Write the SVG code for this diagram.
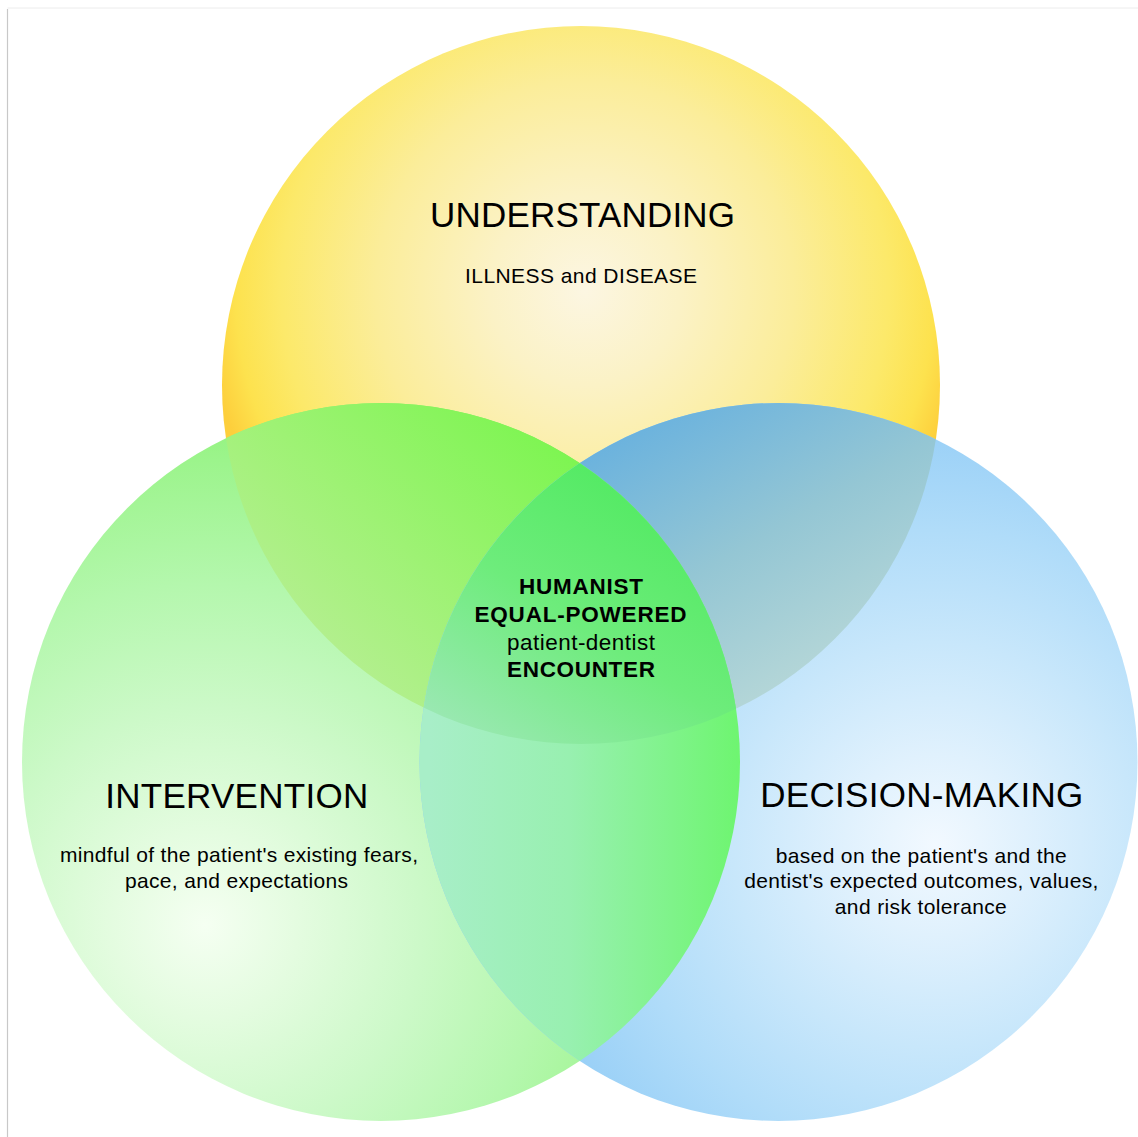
<svg xmlns="http://www.w3.org/2000/svg" width="1138" height="1137" viewBox="0 0 1138 1137">
<style>
  text { font-family: "Liberation Sans", Arial, sans-serif; fill: #000; text-anchor: middle; }
  .title { font-size: 35px; }
  .sub { font-size: 21px; }
  .ctr { font-size: 22.5px; }
  .b { font-weight: bold; }
</style>
<defs>
  <radialGradient id="gY" gradientUnits="userSpaceOnUse" cx="585" cy="290" r="380">
    <stop offset="0" stop-color="#fcf6e2"/>
    <stop offset="0.25" stop-color="#fbf2c6"/>
    <stop offset="0.55" stop-color="#fbed9a"/>
    <stop offset="0.8" stop-color="#fce96a"/>
    <stop offset="0.92" stop-color="#fde24e"/>
    <stop offset="1" stop-color="#fdcf3c"/>
  </radialGradient>
  <radialGradient id="gG" gradientUnits="userSpaceOnUse" cx="205" cy="925" r="620">
    <stop offset="0" stop-color="#f5fff2"/>
    <stop offset="0.15" stop-color="#e4fce0"/>
    <stop offset="0.35" stop-color="#ccf9c8"/>
    <stop offset="0.55" stop-color="#b4f7ad"/>
    <stop offset="0.75" stop-color="#9cf48c"/>
    <stop offset="1" stop-color="#78f055"/>
  </radialGradient>
  <radialGradient id="gB" gradientUnits="userSpaceOnUse" cx="935" cy="845" r="450">
    <stop offset="0" stop-color="#f2f9ff"/>
    <stop offset="0.2" stop-color="#e0f1fd"/>
    <stop offset="0.45" stop-color="#c8e7fb"/>
    <stop offset="0.7" stop-color="#b0dcf9"/>
    <stop offset="1" stop-color="#92ccf6"/>
  </radialGradient>
  <linearGradient id="gYG" gradientUnits="userSpaceOnUse" x1="540" y1="430" x2="300" y2="690">
    <stop offset="0" stop-color="#7ef552"/>
    <stop offset="0.5" stop-color="#9ef274"/>
    <stop offset="1" stop-color="#bbee98"/>
  </linearGradient>
  <linearGradient id="gYB" gradientUnits="userSpaceOnUse" x1="640" y1="420" x2="800" y2="700">
    <stop offset="0" stop-color="#6ab2de"/>
    <stop offset="0.5" stop-color="#94c6d4"/>
    <stop offset="1" stop-color="#b8d8d8"/>
  </linearGradient>
  <linearGradient id="gGB" gradientUnits="userSpaceOnUse" x1="430" y1="0" x2="740" y2="0">
    <stop offset="0" stop-color="#a8eec8"/>
    <stop offset="0.45" stop-color="#98f0b0"/>
    <stop offset="1" stop-color="#6ef570"/>
  </linearGradient>
  <linearGradient id="gYGB" gradientUnits="userSpaceOnUse" x1="640" y1="480" x2="470" y2="740">
    <stop offset="0" stop-color="#52ea62"/>
    <stop offset="0.5" stop-color="#6eec7c"/>
    <stop offset="1" stop-color="#9ae8b2"/>
  </linearGradient>
  <clipPath id="cY"><circle cx="581" cy="385" r="359"/></clipPath>
  <clipPath id="cG"><circle cx="381" cy="762" r="359"/></clipPath>
  <clipPath id="cB"><circle cx="778.5" cy="762" r="359"/></clipPath>
</defs>

<rect x="0" y="0" width="1138" height="1137" fill="#ffffff"/>
<g id="frame">
  <line x1="7.5" y1="8" x2="1138" y2="8" stroke="#ececec" stroke-width="1"/>
  <line x1="7.5" y1="9" x2="7.5" y2="1137" stroke="#c8c8c8" stroke-width="1.2"/>
</g>

<g id="understanding">
  <circle cx="581" cy="385" r="359" fill="url(#gY)"/>
  <text class="title" x="582.5" y="227" font-size="34" textLength="305" lengthAdjust="spacing">UNDERSTANDING</text>
  <text class="sub" x="581" y="283" font-size="20.5" textLength="232" lengthAdjust="spacing">ILLNESS and DISEASE</text>
</g>

<g id="intervention">
  <circle cx="381" cy="762" r="359" fill="url(#gG)"/>
  <text class="title" x="236.7" y="808" textLength="263" lengthAdjust="spacing">INTERVENTION</text>
  <text class="sub" x="239" y="862" textLength="358" lengthAdjust="spacing">mindful of the patient's existing fears,</text>
  <text class="sub" x="236.5" y="888" textLength="223" lengthAdjust="spacing">pace, and expectations</text>
</g>

<g id="decision-making">
  <circle cx="778.5" cy="762" r="359" fill="url(#gB)"/>
  <text class="title" x="921.7" y="807" textLength="323" lengthAdjust="spacing">DECISION-MAKING</text>
  <text class="sub" x="921.2" y="863" textLength="291" lengthAdjust="spacing">based on the patient's and the</text>
  <text class="sub" x="921.3" y="888" textLength="354" lengthAdjust="spacing">dentist's expected outcomes, values,</text>
  <text class="sub" x="920.8" y="914" textLength="172" lengthAdjust="spacing">and risk tolerance</text>
</g>

<g id="overlaps">
  <g clip-path="url(#cY)"><circle cx="381" cy="762" r="359" fill="url(#gYG)"/></g>
  <g clip-path="url(#cY)"><circle cx="778.5" cy="762" r="359" fill="url(#gYB)"/></g>
  <g clip-path="url(#cG)"><circle cx="778.5" cy="762" r="359" fill="url(#gGB)"/></g>
  <g clip-path="url(#cY)"><g clip-path="url(#cG)"><circle cx="778.5" cy="762" r="359" fill="url(#gYGB)"/></g></g>
</g>

<g id="encounter">
  <text class="ctr b" x="581" y="593.5" textLength="124" lengthAdjust="spacing">HUMANIST</text>
  <text class="ctr b" x="580.5" y="621.5" textLength="212" lengthAdjust="spacing">EQUAL-POWERED</text>
  <text class="ctr" x="581" y="649.5" textLength="148" lengthAdjust="spacing">patient-dentist</text>
  <text class="ctr b" x="581" y="677" textLength="148" lengthAdjust="spacing">ENCOUNTER</text>
</g>
</svg>
